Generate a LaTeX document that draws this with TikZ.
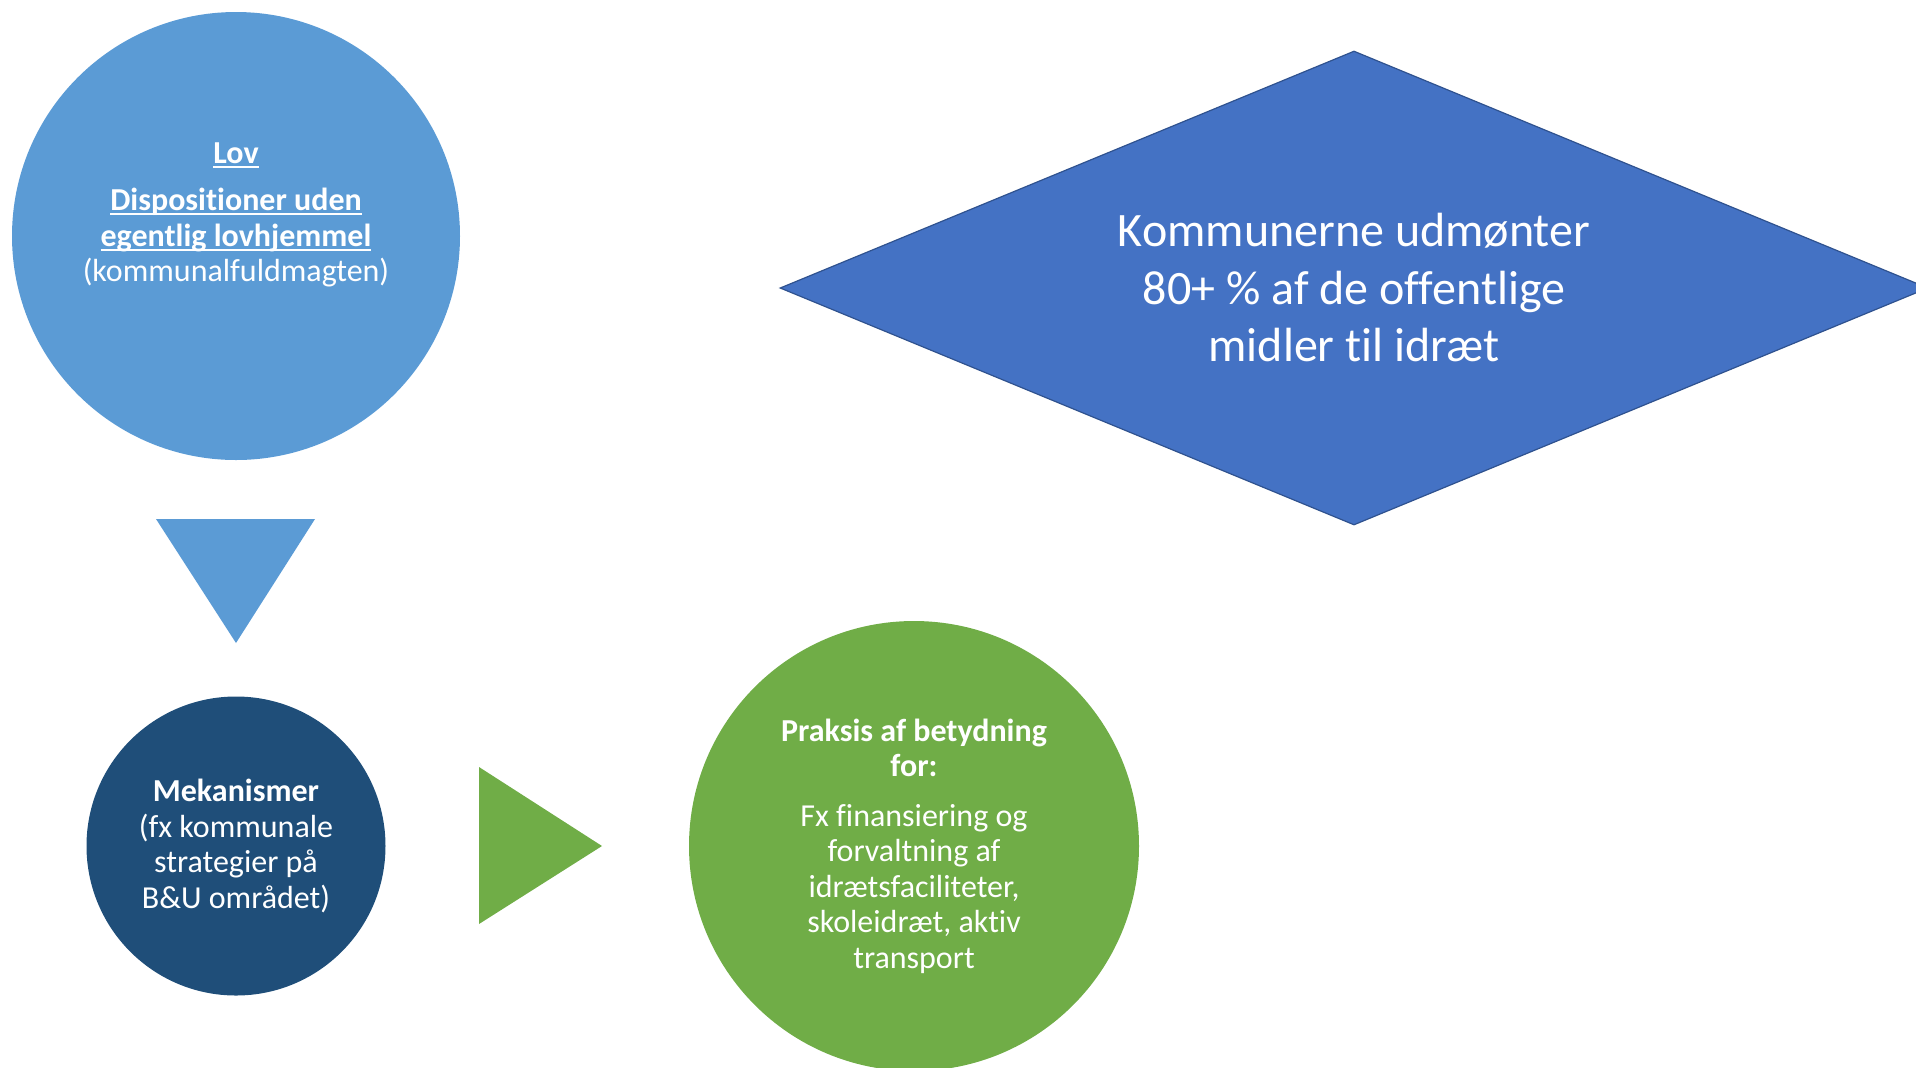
\documentclass[tikz,border=0pt]{standalone}
\usepackage{fontspec}
\setmainfont{Carlito}[Ligatures=NoCommon]
\usetikzlibrary{shapes.geometric,positioning}

\definecolor{lovblue}{HTML}{5B9BD5}
\definecolor{mekblue}{HTML}{1F4E79}
\definecolor{praksisgreen}{HTML}{70AD47}
\definecolor{kommblue}{HTML}{4472C4}
\definecolor{kommedge}{HTML}{2F528F}

\newlength\ulwd
\newcommand\undl[1]{\settowidth\ulwd{#1}\rlap{\rule[-2.2pt]{\ulwd}{1pt}}#1}

\begin{document}
\begin{tikzpicture}[x=0.5pt, y=-0.5pt,
    every node/.style={text=white, align=center, inner sep=0pt},
    rund/.style={circle, minimum size=#1},
    brod/.style={font=\fontsize{16}{17.75}\selectfont},
    stor/.style={font=\fontsize{24}{28.75}\selectfont}]

  \useasboundingbox (0,0) rectangle (1916,1067);

  % venstre kolonne
  \node[rund=224pt, fill=lovblue] (lov) at (236,236) {};
  \node[brod] (lovtekst) at (236,215) {\textbf{\undl{Lov}}\\[5.75pt]
      \textbf{\undl{Dispositioner uden}}\\
      \textbf{\undl{egentlig lovhjemmel}}\\
      (kommunalfuldmagten)};
  \fill[lovblue] (156,519) -- (315,519) -- (236,643) -- cycle;

  \node[rund=149.5pt, fill=mekblue, brod] (mek) at (236,846)
      {\textbf{Mekanismer}\\(fx kommunale\\strategier på\\B\&U området)};
  \fill[praksisgreen] (479,767) -- (602,846) -- (479,924) -- cycle;

  \node[rund=225pt, fill=praksisgreen, brod] (praksis) at (914,846)
      {\textbf{Praksis af betydning}\\\textbf{for:}\\[7pt]
       Fx finansiering og\\forvaltning af\\idrætsfaciliteter,\\skoleidræt, aktiv\\transport};

  % diamanten
  \node[diamond, aspect=2.42, fill=kommblue, draw=kommedge, line width=0.6pt,
        minimum width=574pt, minimum height=237pt, stor] (komm) at (1354,288)
      {Kommunerne udmønter\\80+ \% af de offentlige\\midler til idræt};
\end{tikzpicture}
\end{document}
